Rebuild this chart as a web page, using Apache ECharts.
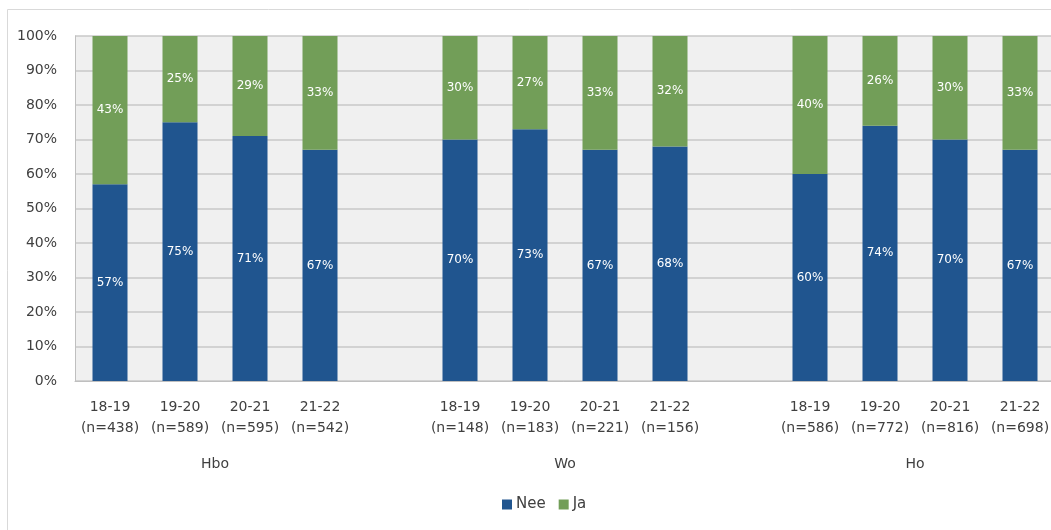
<!DOCTYPE html>
<html>
<head>
<meta charset="utf-8">
<script src="https://cdn.jsdelivr.net/npm/echarts@6/dist/echarts.min.js"></script>
<style>html,body{margin:0;padding:0;background:#fff}#c{width:1051px;height:530px}</style>
</head>
<body>
<div id="c"></div>
<script>
const categories = ['18-19\n(n=438)','19-20\n(n=589)','20-21\n(n=595)','21-22\n(n=542)','',
  '18-19\n(n=148)','19-20\n(n=183)','20-21\n(n=221)','21-22\n(n=156)','',
  '18-19\n(n=586)','19-20\n(n=772)','20-21\n(n=816)','21-22\n(n=698)'];
const neeValues = [57,75,71,67,null,70,73,67,68,null,60,74,70,67];
const jaValues  = [43,25,29,33,null,30,27,33,32,null,40,26,30,33];
const groupLabels = ['','','Hbo','','','','','Wo','','','','','Ho','',''];
const yTicks = [0,10,20,30,40,50,60,70,80,90,100];

const FONT = 'DejaVu Sans';
const TXT = '#404040';
const chart = echarts.init(document.getElementById('c'), null, {renderer:'canvas'});
chart.setOption({
  animation:false,
  textStyle:{fontFamily:FONT},
  graphic:[{type:'rect', silent:true, z:-10,
    shape:{x:7.5,y:9.5,width:1100,height:600},
    style:{fill:'none',stroke:'#d9d9d9',lineWidth:1}}],
  grid:{left:75, top:36, right:-4, bottom:149, show:true, backgroundColor:'#f0f0f0', borderWidth:0,
    outerBoundsMode:'none', containLabel:false},
  legend:{bottom:13, left:497, itemWidth:10, itemHeight:10, itemGap:13, icon:'rect',
    textStyle:{fontFamily:FONT, fontSize:15, color:TXT, padding:[0,0,0,-1]},
    data:['Nee','Ja']},
  xAxis:[{
    type:'category', data:categories,
    axisLine:{show:true, lineStyle:{color:'#bfbfbf', width:1}},
    axisTick:{show:false},
    axisLabel:{interval:0, fontFamily:FONT, fontSize:14, color:TXT, lineHeight:21, margin:16}
  },{
    type:'category', data:groupLabels, boundaryGap:false, position:'bottom',
    axisLine:{show:false}, axisTick:{show:false}, splitLine:{show:false},
    axisLabel:{interval:0, fontFamily:FONT, fontSize:14, color:TXT, lineHeight:21, margin:73}
  }],
  yAxis:{
    type:'value', min:0, max:100, interval:10,
    axisLine:{show:true, lineStyle:{color:'#bfbfbf'}},
    axisTick:{show:false},
    splitLine:{lineStyle:{color:'#c8c8c8', width:1.5}},
    axisLabel:{fontFamily:FONT, fontSize:14, color:TXT, margin:18,
      formatter:v => yTicks.includes(v) ? v + '%' : ''}
  },
  series:[{
    name:'Nee', type:'bar', stack:'t', data:neeValues, barWidth:'50%',
    itemStyle:{color:'#20558f'},
    label:{show:true, position:'inside', color:'#fff', fontFamily:FONT, fontSize:12, formatter:'{c}%'}
  },{
    name:'Ja', type:'bar', stack:'t', data:jaValues, barWidth:'50%',
    itemStyle:{color:'#729e58'},
    label:{show:true, position:'inside', color:'#fff', fontFamily:FONT, fontSize:12, formatter:'{c}%'}
  }]
});
</script>
</body>
</html>
